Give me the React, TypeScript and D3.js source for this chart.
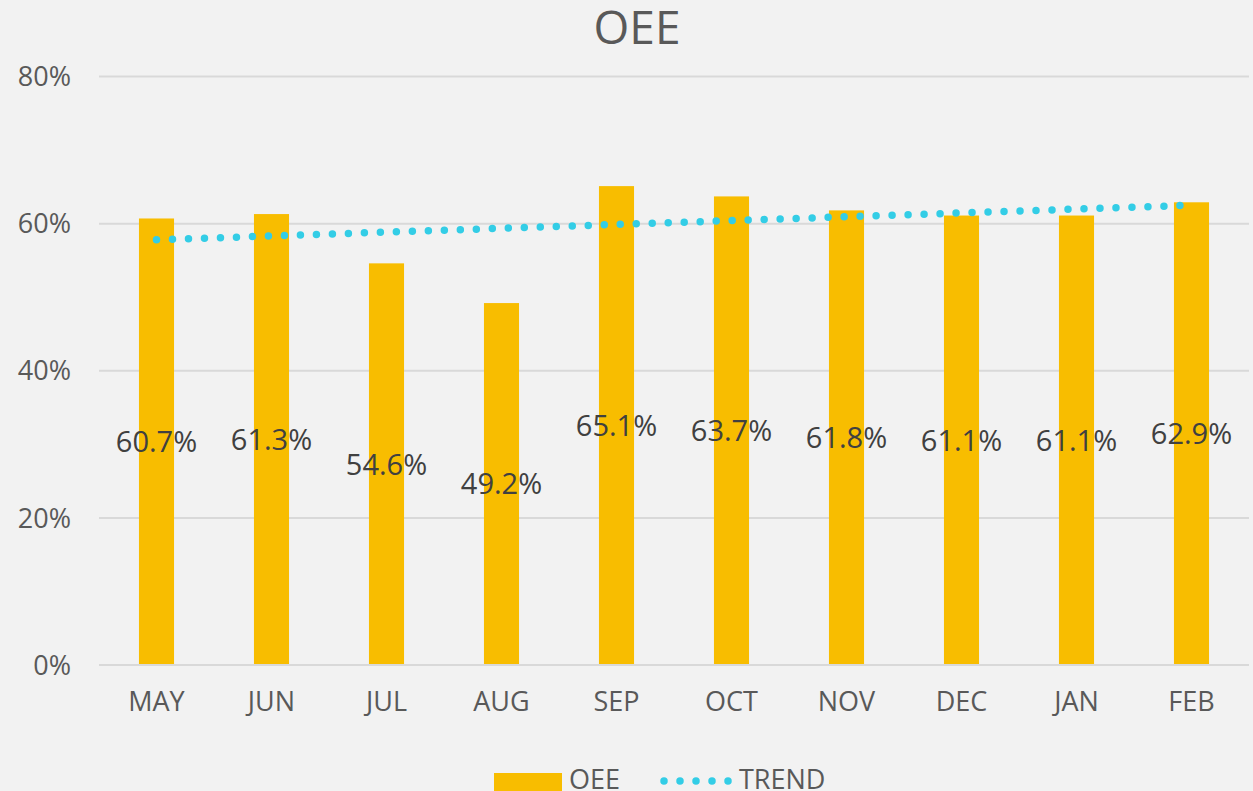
import React from 'react';
import * as d3 from 'd3';

const months = ['MAY', 'JUN', 'JUL', 'AUG', 'SEP', 'OCT', 'NOV', 'DEC', 'JAN', 'FEB'];
const oee = [0.607, 0.613, 0.546, 0.492, 0.651, 0.637, 0.618, 0.611, 0.611, 0.629];
// linear trendline end points (first and last month)
const trendEnds = [0.578, 0.625];
const yTicks = [0, 0.2, 0.4, 0.6, 0.8];

const width = 1253;
const height = 791;
const font = '"Open Sans", "Noto Sans", sans-serif';
const barColor = '#F8BD00';
const trendColor = '#33CDE6';
const gridColor = '#D9D9D9';
const textColor = '#595959';

function App() {
  const x = d3.scaleBand<string>()
    .domain(months)
    .range([99, 1249])
    .paddingInner(0.695)
    .paddingOuter(0.3475);

  const y = d3.scaleLinear().domain([0, 0.8]).range([665, 76.5]);
  const fmtTick = d3.format('.0%');
  const fmtLabel = d3.format('.1%');

  const cx = (m: string) => (x(m) ?? 0) + x.bandwidth() / 2;

  const trendLine = d3.line<number>()
    .x((_, i) => cx(months[i === 0 ? 0 : months.length - 1]))
    .y(d => y(d));

  return (
    <svg
      width={width}
      height={height}
      style={{ position: 'absolute', left: 0, top: 0, background: '#F2F2F2' }}
      fontFamily={font}
    >
      <rect width={width} height={height} fill="#F2F2F2" />

      <text x={637} y={44} textAnchor="middle" fontSize={46} fill={textColor}>OEE</text>

      {yTicks.map(t => (
        <g key={t}>
          <line x1={99} x2={1249} y1={y(t)} y2={y(t)} stroke={gridColor} strokeWidth={2} />
          <text x={71} y={y(t)} dy="0.36em" textAnchor="end" fontSize={27} fill={textColor}>
            {fmtTick(t)}
          </text>
        </g>
      ))}

      {months.map((m, i) => (
        <rect
          key={m}
          x={x(m)}
          y={y(oee[i])}
          width={x.bandwidth()}
          height={y(0) - y(oee[i])}
          fill={barColor}
        />
      ))}

      <line x1={99} x2={1249} y1={y(0)} y2={y(0)} stroke={gridColor} strokeWidth={2} />

      <path
        d={trendLine(trendEnds) ?? ''}
        fill="none"
        stroke={trendColor}
        strokeWidth={7.5}
        strokeLinecap="round"
        strokeDasharray="0 16"
      />

      {months.map((m, i) => (
        <text
          key={m}
          x={cx(m)}
          y={(y(oee[i]) + y(0)) / 2}
          dy="0.36em"
          textAnchor="middle"
          fontSize={29}
          fill="#404040"
        >
          {fmtLabel(oee[i])}
        </text>
      ))}

      {months.map(m => (
        <text key={m} x={cx(m)} y={711} textAnchor="middle" fontSize={27} fill={textColor}>
          {m}
        </text>
      ))}

      <g>
        <rect x={494} y={773} width={68} height={20} fill={barColor} />
        <text x={569} y={789} fontSize={27} fill={textColor}>OEE</text>
        <line
          x1={664} x2={730} y1={781} y2={781}
          stroke={trendColor}
          strokeWidth={7.5}
          strokeLinecap="round"
          strokeDasharray="0 16"
        />
        <text x={739} y={789} fontSize={27} fill={textColor}>TREND</text>
      </g>
    </svg>
  );
}

export default App;
